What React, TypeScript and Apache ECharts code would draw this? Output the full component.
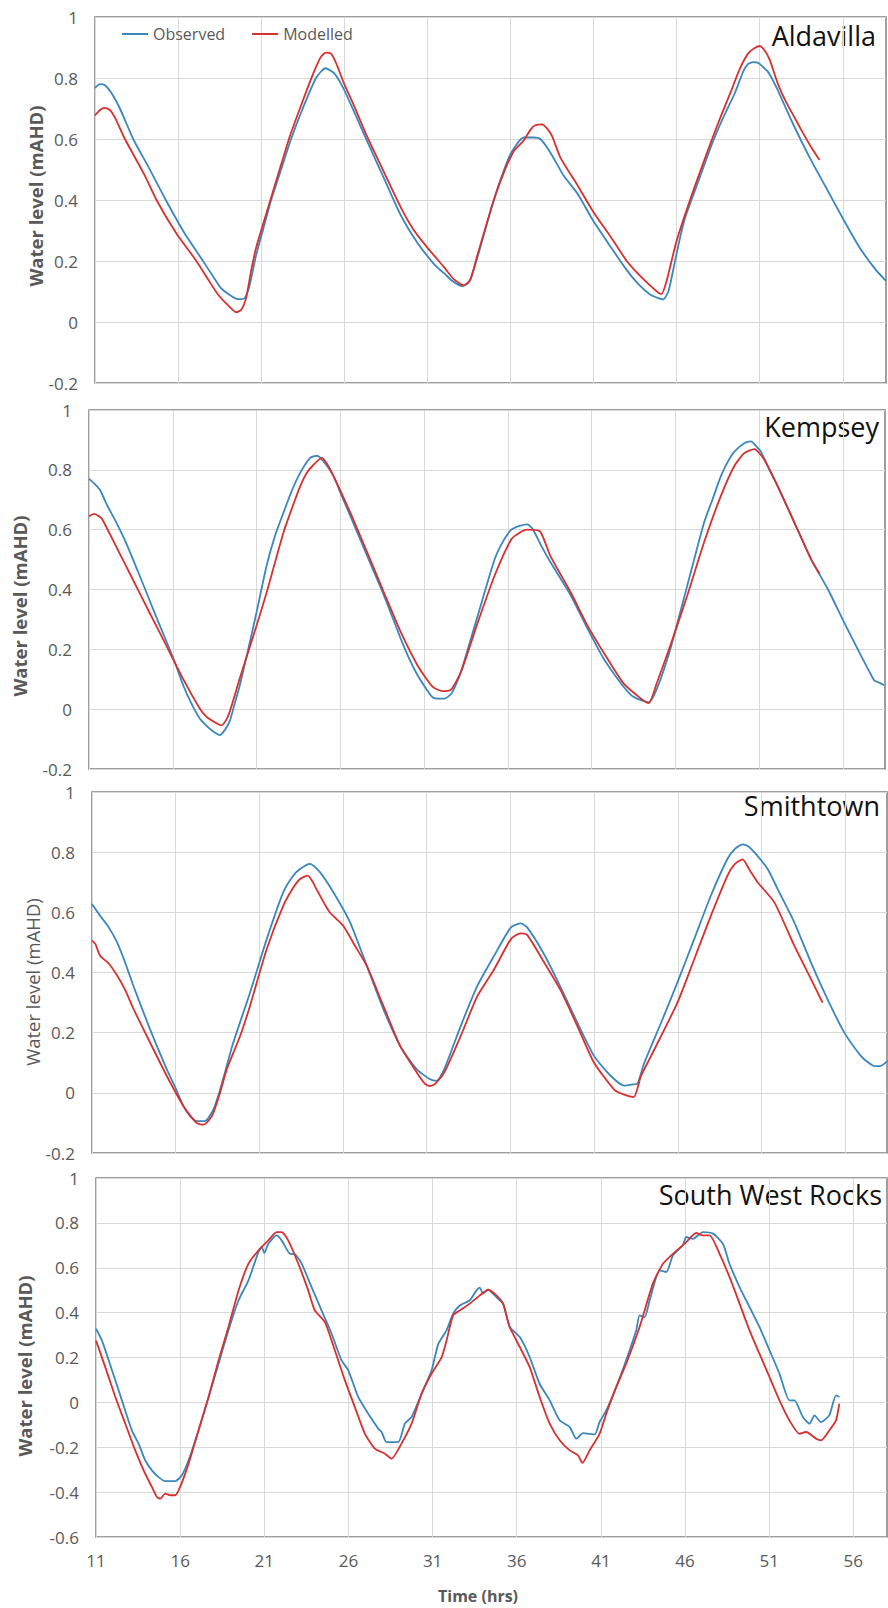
import React, { useEffect, useRef } from "react";
import * as echarts from "echarts";

// ---------- DATA (time in hrs, water level in mAHD) ----------
const xTicks = [11, 16, 21, 26, 31, 36, 41, 46, 51, 56];
const stationNames = ["Aldavilla", "Kempsey", "Smithtown", "South West Rocks"];
const seriesNames = ["Observed", "Modelled"];

const aldavillaObserved = [
  [11.0, 0.768], [11.3, 0.78], [11.6, 0.776], [12.0, 0.75], [12.5, 0.7], [13.3, 0.6], [14.2, 0.51],
  [15.26, 0.4], [16.4, 0.29], [17.5, 0.2], [18.1, 0.15], [18.6, 0.11], [19.2, 0.085], [19.6, 0.075],
  [20.0, 0.078], [20.3, 0.12], [20.7, 0.22], [21.1, 0.3], [21.6, 0.4], [22.2, 0.5], [22.8, 0.6],
  [23.5, 0.7], [24.3, 0.8], [24.86, 0.832], [25.4, 0.815], [26.0, 0.76], [27.4, 0.59], [28.4, 0.47],
  [29.4, 0.35], [30.4, 0.26], [31.4, 0.19], [32.0, 0.16], [32.6, 0.13], [33.1, 0.118], [33.5, 0.13],
  [34.0, 0.21], [35.0, 0.4], [36.0, 0.55], [36.8, 0.605], [37.4, 0.605], [37.8, 0.6], [38.4, 0.556],
  [39.2, 0.48], [40.05, 0.42], [41.0, 0.33], [42.06, 0.244], [43.0, 0.17], [43.7, 0.124], [44.4, 0.09],
  [44.9, 0.078], [45.2, 0.074], [45.5, 0.1], [45.7, 0.146], [46.1, 0.25], [46.5, 0.34], [47.3, 0.46],
  [48.1, 0.58], [48.8, 0.67], [49.5, 0.75], [50.0, 0.82], [50.3, 0.846], [50.6, 0.852], [50.9, 0.85],
  [51.5, 0.82], [52.0, 0.77], [52.5, 0.71], [53.0, 0.65], [54.0, 0.54], [55.0, 0.44], [56.0, 0.34],
  [57.0, 0.245], [58.0, 0.17], [58.6, 0.135],
];
const aldavillaModelled = [
  [11.0, 0.677], [11.3, 0.695], [11.6, 0.702], [11.9, 0.695], [12.2, 0.67], [12.8, 0.6], [13.3, 0.55],
  [14.0, 0.48], [14.7, 0.4], [15.9, 0.29], [17.1, 0.2], [17.8, 0.14], [18.4, 0.09], [19.0, 0.055],
  [19.5, 0.032], [19.8, 0.04], [20.1, 0.08], [20.4, 0.17], [20.7, 0.244], [21.3, 0.354], [22.0, 0.48],
  [22.7, 0.605], [23.4, 0.71], [24.1, 0.81], [24.6, 0.87], [24.9, 0.883], [25.2, 0.88], [25.5, 0.85],
  [26.0, 0.78], [26.5, 0.72], [27.4, 0.605], [28.4, 0.49], [29.4, 0.376], [30.2, 0.3], [31.0, 0.244],
  [32.0, 0.18], [32.6, 0.14], [33.2, 0.12], [33.6, 0.14], [34.0, 0.217], [35.0, 0.4], [35.6, 0.49],
  [36.2, 0.56], [36.8, 0.595], [37.2, 0.63], [37.5, 0.645], [37.9, 0.648], [38.2, 0.635], [38.5, 0.61],
  [39.0, 0.54], [40.05, 0.447], [41.0, 0.36], [42.06, 0.277], [43.0, 0.2], [43.7, 0.157], [44.4, 0.12],
  [44.9, 0.096], [45.1, 0.092], [45.4, 0.135], [46.0, 0.266], [47.0, 0.43], [48.1, 0.595], [48.7, 0.68],
  [49.3, 0.76], [49.8, 0.83], [50.3, 0.88], [50.7, 0.898], [51.0, 0.905], [51.3, 0.89], [51.6, 0.86],
  [52.1, 0.78], [52.6, 0.72], [53.1, 0.67], [53.6, 0.62], [54.1, 0.573], [54.6, 0.531],
];

const kempseyObserved = [
  [11.0, 0.77], [11.3, 0.755], [11.64, 0.734], [12.1, 0.68], [12.64, 0.623], [13.1, 0.57], [13.63, 0.5],
  [14.43, 0.39], [15.0, 0.31], [15.63, 0.225], [16.1, 0.16], [16.62, 0.08], [17.1, 0.02], [17.6, -0.03],
  [18.0, -0.055], [18.4, -0.074], [18.8, -0.087], [19.1, -0.07], [19.4, -0.04], [19.7, 0.02], [20.0, 0.08],
  [20.5, 0.2], [21.0, 0.324], [21.6, 0.48], [22.1, 0.58], [22.6, 0.656], [23.1, 0.73], [23.6, 0.79],
  [24.2, 0.84], [24.6, 0.847], [25.0, 0.828], [25.6, 0.778], [26.1, 0.71], [26.6, 0.645], [27.6, 0.512],
  [28.6, 0.38], [29.6, 0.236], [30.1, 0.17], [30.6, 0.114], [31.1, 0.07], [31.5, 0.04], [31.9, 0.035],
  [32.2, 0.035], [32.6, 0.05], [32.8, 0.07], [33.2, 0.125], [34.2, 0.313], [35.2, 0.5], [35.7, 0.56],
  [36.2, 0.6], [36.7, 0.613], [37.15, 0.618], [37.5, 0.6], [38.0, 0.545], [38.55, 0.49], [39.75, 0.38],
  [40.74, 0.27], [41.7, 0.17], [42.3, 0.12], [42.9, 0.075], [43.4, 0.045], [43.9, 0.031], [44.4, 0.023],
  [44.9, 0.07], [45.7, 0.203], [46.7, 0.413], [47.7, 0.623], [48.2, 0.7], [48.7, 0.778], [49.1, 0.825],
  [49.5, 0.86], [50.1, 0.889], [50.5, 0.895], [50.8, 0.88], [51.1, 0.86], [51.6, 0.8], [52.1, 0.745],
  [53.1, 0.623], [54.1, 0.5], [55.1, 0.4], [56.06, 0.29], [57.06, 0.18], [57.85, 0.097], [58.1, 0.09],
  [58.45, 0.08],
];
const kempseyModelled = [
  [11.0, 0.645], [11.3, 0.653], [11.6, 0.645], [11.8, 0.634], [12.6, 0.546], [13.6, 0.435], [14.6, 0.324],
  [15.6, 0.214], [16.6, 0.103], [17.6, 0.003], [18.0, -0.025], [18.4, -0.04], [18.9, -0.054], [19.2, -0.035],
  [19.4, -0.008], [20.0, 0.103], [21.0, 0.28], [21.6, 0.39], [22.6, 0.59], [23.1, 0.67], [23.6, 0.745],
  [24.0, 0.79], [24.4, 0.817], [24.9, 0.84], [25.2, 0.82], [25.6, 0.778], [26.6, 0.656], [27.6, 0.524],
  [28.6, 0.39], [29.6, 0.258], [30.6, 0.147], [31.5, 0.075], [32.1, 0.06], [32.6, 0.065], [33.2, 0.125],
  [34.2, 0.29], [35.2, 0.446], [36.2, 0.568], [36.7, 0.59], [37.15, 0.6], [37.9, 0.595], [38.2, 0.56],
  [38.55, 0.51], [39.75, 0.39], [40.74, 0.28], [41.7, 0.19], [42.9, 0.086], [43.9, 0.037], [44.4, 0.02],
  [44.9, 0.09], [45.7, 0.214], [46.7, 0.38], [47.7, 0.557], [48.7, 0.712], [49.5, 0.812], [50.1, 0.856],
  [50.7, 0.869], [51.3, 0.834], [52.1, 0.745], [53.1, 0.623], [54.1, 0.5], [54.6, 0.452],
];

const smithtownObserved = [
  [11.0, 0.628], [11.48, 0.589], [12.0, 0.55], [12.5, 0.5], [13.0, 0.43], [13.47, 0.356], [14.47, 0.211],
  [15.47, 0.078], [16.0, 0.015], [16.46, -0.044], [16.9, -0.08], [17.26, -0.094], [17.75, -0.094],
  [18.25, -0.056], [18.65, 0.01], [19.05, 0.089], [19.4, 0.16], [20.44, 0.333], [21.44, 0.511],
  [22.43, 0.667], [23.0, 0.72], [23.43, 0.744], [24.03, 0.761], [24.63, 0.733], [25.42, 0.667],
  [26.42, 0.567], [27.42, 0.422], [28.41, 0.278], [29.41, 0.156], [30.41, 0.078], [31.2, 0.045],
  [31.6, 0.04], [32.04, 0.078], [33.03, 0.222], [34.03, 0.356], [35.03, 0.456], [36.03, 0.55],
  [36.62, 0.563], [37.0, 0.55], [38.02, 0.46], [39.01, 0.35], [40.0, 0.233], [41.0, 0.122], [42.0, 0.056],
  [42.8, 0.024], [43.3, 0.028], [43.6, 0.031], [44.0, 0.1], [45.0, 0.233], [45.98, 0.367], [46.98, 0.511],
  [47.98, 0.656], [48.97, 0.778], [49.4, 0.81], [49.87, 0.826], [50.2, 0.82], [50.57, 0.8], [51.37, 0.744],
  [51.96, 0.678], [52.96, 0.567], [53.96, 0.433], [54.95, 0.311], [55.95, 0.2], [56.95, 0.122],
  [57.4, 0.1], [57.74, 0.089], [58.1, 0.089], [58.54, 0.106],
];
const smithtownModelled = [
  [11.0, 0.506], [11.2, 0.495], [11.48, 0.456], [12.0, 0.43], [12.5, 0.39], [13.0, 0.34], [13.47, 0.28],
  [14.47, 0.167], [15.47, 0.056], [16.46, -0.044], [17.0, -0.085], [17.26, -0.1], [17.65, -0.106],
  [18.0, -0.09], [18.25, -0.067], [18.65, 0.0], [19.05, 0.078], [19.85, 0.189], [20.44, 0.289],
  [21.44, 0.478], [22.43, 0.622], [23.0, 0.68], [23.43, 0.711], [23.9, 0.722], [24.2, 0.7], [24.4, 0.678],
  [25.2, 0.6], [26.0, 0.556], [26.7, 0.49], [27.42, 0.422], [28.41, 0.289], [29.41, 0.156], [30.41, 0.067],
  [30.9, 0.03], [31.2, 0.022], [31.5, 0.03], [32.04, 0.067], [33.03, 0.189], [34.03, 0.322], [35.03, 0.411],
  [36.03, 0.511], [36.6, 0.53], [37.0, 0.525], [38.02, 0.433], [39.01, 0.34], [40.0, 0.222], [41.0, 0.1],
  [42.2, 0.011], [42.8, -0.006], [43.37, -0.014], [43.8, 0.056], [44.4, 0.122], [45.98, 0.3], [46.98, 0.444],
  [47.98, 0.589], [48.97, 0.722], [49.4, 0.76], [49.87, 0.776], [50.3, 0.74], [50.77, 0.7], [51.77, 0.633],
  [52.96, 0.489], [53.96, 0.378], [54.65, 0.3],
];

const southWestRocksObserved = [
  [11.0, 0.328], [11.35, 0.276], [11.95, 0.143], [12.54, 0.009], [13.13, -0.125], [13.53, -0.184],
  [13.92, -0.258], [14.32, -0.303], [14.72, -0.333], [15.11, -0.351], [15.71, -0.351], [16.1, -0.325],
  [16.5, -0.258], [17.09, -0.125], [17.69, 0.024], [18.28, 0.172], [18.87, 0.321], [19.47, 0.455],
  [20.06, 0.544], [20.65, 0.67], [20.85, 0.692], [21.0, 0.665], [21.24, 0.707], [21.73, 0.744],
  [22.03, 0.722], [22.52, 0.662], [22.82, 0.66], [23.22, 0.618], [23.81, 0.514], [24.4, 0.41], [25.0, 0.306],
  [25.59, 0.187], [25.99, 0.143], [26.58, 0.024], [27.17, -0.05], [27.77, -0.117], [27.97, -0.132],
  [28.26, -0.177], [28.96, -0.177], [29.35, -0.095], [29.75, -0.065], [30.35, 0.039], [30.94, 0.143],
  [31.34, 0.261], [31.83, 0.321], [32.22, 0.395], [32.62, 0.432], [33.21, 0.455], [33.61, 0.499],
  [33.81, 0.511], [34.0, 0.484], [34.3, 0.502], [34.79, 0.469], [35.19, 0.44], [35.58, 0.336],
  [36.18, 0.291], [36.77, 0.202], [37.36, 0.083], [37.96, 0.009], [38.55, -0.08], [39.15, -0.11],
  [39.54, -0.162], [39.94, -0.137], [40.63, -0.143], [40.92, -0.088], [41.32, -0.036], [41.91, 0.068],
  [42.5, 0.187], [43.1, 0.321], [43.3, 0.388], [43.6, 0.38], [43.9, 0.455], [44.49, 0.588], [44.89, 0.581],
  [45.28, 0.655], [45.87, 0.7], [46.07, 0.737], [46.47, 0.729], [47.06, 0.759], [47.66, 0.752],
  [48.25, 0.707], [48.64, 0.618], [49.24, 0.514], [49.83, 0.425], [50.42, 0.336], [51.02, 0.232],
  [51.61, 0.128], [52.2, 0.009], [52.5, 0.009], [53.0, -0.065], [53.39, -0.095], [53.69, -0.058],
  [54.08, -0.088], [54.57, -0.058], [54.97, 0.031], [55.17, 0.024],
];
const southWestRocksModelled = [
  [11.0, 0.276], [11.55, 0.157], [12.15, 0.024], [12.74, -0.095], [13.33, -0.214], [13.92, -0.318],
  [14.32, -0.377], [14.62, -0.422], [14.82, -0.429], [15.11, -0.407], [15.41, -0.414], [15.71, -0.414],
  [16.0, -0.377], [16.5, -0.273], [17.09, -0.125], [17.69, 0.024], [18.28, 0.187], [18.87, 0.336],
  [19.47, 0.499], [20.06, 0.618], [20.65, 0.677], [21.24, 0.722], [21.73, 0.759], [22.03, 0.759],
  [22.42, 0.722], [23.02, 0.618], [23.61, 0.499], [24.0, 0.41], [24.6, 0.358], [25.19, 0.232],
  [25.79, 0.098], [26.38, -0.021], [26.98, -0.14], [27.57, -0.206], [28.17, -0.229], [28.56, -0.251],
  [29.15, -0.184], [29.75, -0.095], [30.35, 0.039], [30.94, 0.128], [31.54, 0.202], [31.83, 0.276],
  [32.22, 0.388], [32.62, 0.41], [33.21, 0.44], [33.81, 0.477], [34.3, 0.502], [34.79, 0.477],
  [35.19, 0.44], [35.58, 0.336], [36.18, 0.247], [36.77, 0.157], [37.36, 0.024], [37.96, -0.095],
  [38.55, -0.169], [39.15, -0.214], [39.64, -0.236], [39.9, -0.27], [40.33, -0.214], [40.92, -0.14],
  [41.32, -0.05], [41.91, 0.068], [42.5, 0.172], [43.3, 0.336], [44.09, 0.529], [44.69, 0.618],
  [45.28, 0.662], [46.07, 0.714], [46.66, 0.755], [47.06, 0.744], [47.46, 0.744], [48.05, 0.662],
  [48.64, 0.559], [49.24, 0.44], [49.83, 0.321], [50.42, 0.217], [51.02, 0.113], [51.61, 0.009],
  [52.2, -0.08], [52.8, -0.14], [53.2, -0.132], [53.79, -0.162], [54.08, -0.169], [54.57, -0.125],
  [54.97, -0.08], [55.17, -0.006],
];

const observedData = [aldavillaObserved, kempseyObserved, smithtownObserved, southWestRocksObserved];
const modelledData = [aldavillaModelled, kempseyModelled, smithtownModelled, southWestRocksModelled];
const yMins = [-0.2, -0.2, -0.2, -0.6];
const xMaxes = [58.6, 58.5, 58.5, 58.0];

// ---------- LAYOUT / STYLE ----------
const FONT = '"Open Sans", "Noto Sans", sans-serif';
const BLUE = "#3b87bb";
const RED = "#d6302f";
const GRAY = "#595959";
const GRID_LINE = "#d9d9d9";
const BORDER = "#7f7f7f";

const grids = [
  { left: 95, top: 17, width: 791, height: 366 },
  { left: 89, top: 410, width: 796, height: 359 },
  { left: 92, top: 792, width: 795, height: 361 },
  { left: 96, top: 1178, width: 791, height: 359 },
];
const titlePos = [
  { x: 876, y: 35 },
  { x: 879, y: 426 },
  { x: 880, y: 805 },
  { x: 882, y: 1194 },
];
const yTitlePos = [
  { x: 35, y: 196, bold: true },
  { x: 19, y: 606, bold: true },
  { x: 32, y: 982, bold: false },
  { x: 24, y: 1366, bold: true },
];

export default function App() {
  const ref = useRef<HTMLDivElement>(null);

  useEffect(() => {
    document.body.style.margin = "0";
    if (!ref.current) return;
    const chart = echarts.init(ref.current, undefined, { renderer: "svg" });

    const xAxis = grids.map((_, i) => ({
      type: "value",
      gridIndex: i,
      min: 11,
      max: xMaxes[i],
      axisLine: { show: false },
      axisTick: { show: false, customValues: xTicks },
      axisLabel: {
        show: i === 3,
        customValues: xTicks,
        color: GRAY,
        fontSize: 17,
        fontFamily: FONT,
        margin: 15,
      },
      splitLine: { show: true, lineStyle: { color: GRID_LINE, width: 1 } },
    }));

    const yAxis = grids.map((_, i) => ({
      type: "value",
      gridIndex: i,
      min: yMins[i],
      max: 1,
      interval: 0.2,
      axisLine: { show: false },
      axisTick: { show: false },
      axisLabel: { color: GRAY, fontSize: 17, fontFamily: FONT, margin: 17 },
      splitLine: { show: true, lineStyle: { color: GRID_LINE, width: 1 } },
    }));

    const series: any[] = [];
    grids.forEach((_, i) => {
      series.push({
        name: seriesNames[0],
        type: "line",
        xAxisIndex: i,
        yAxisIndex: i,
        data: observedData[i],
        symbol: "none",
        smooth: 0.2,
        lineStyle: { color: BLUE, width: 1.8 },
        itemStyle: { color: BLUE },
      });
      series.push({
        name: seriesNames[1],
        type: "line",
        xAxisIndex: i,
        yAxisIndex: i,
        data: modelledData[i],
        symbol: "none",
        smooth: 0.2,
        lineStyle: { color: RED, width: 1.8 },
        itemStyle: { color: RED },
      });
    });

    const graphic: any[] = [];
    stationNames.forEach((name, i) => {
      graphic.push({
        type: "text",
        x: titlePos[i].x,
        y: titlePos[i].y,
        style: {
          text: name,
          fontSize: 27,
          fontFamily: FONT,
          fill: "#111",
          align: "right",
          verticalAlign: "middle",
        },
      });
      graphic.push({
        type: "text",
        x: yTitlePos[i].x,
        y: yTitlePos[i].y,
        rotation: Math.PI / 2,
        style: {
          text: "Water level (mAHD)",
          fontSize: 18.5,
          fontWeight: yTitlePos[i].bold ? "bold" : "normal",
          fontFamily: FONT,
          fill: GRAY,
          align: "center",
          verticalAlign: "middle",
        },
      });
    });
    graphic.push({
      type: "text",
      x: 478,
      y: 1596,
      style: {
        text: "Time (hrs)",
        fontSize: 16,
        fontWeight: "bold",
        fontFamily: FONT,
        fill: GRAY,
        align: "center",
        verticalAlign: "middle",
      },
    });

    chart.setOption({
      animation: false,
      backgroundColor: "#ffffff",
      grid: grids.map((g) => ({
        ...g,
        show: true,
        borderColor: BORDER,
        borderWidth: 1.5,
        backgroundColor: "#ffffff",
        containLabel: false,
      })),
      legend: {
        data: seriesNames,
        left: 117,
        top: 21,
        icon: "rect",
        itemWidth: 26,
        itemHeight: 2,
        itemGap: 27,
        textStyle: { color: GRAY, fontSize: 16, fontFamily: FONT },
      },
      xAxis,
      yAxis,
      series,
      graphic,
    });

    return () => chart.dispose();
  }, []);

  return <div ref={ref} style={{ width: 888, height: 1608 }} />;
}
